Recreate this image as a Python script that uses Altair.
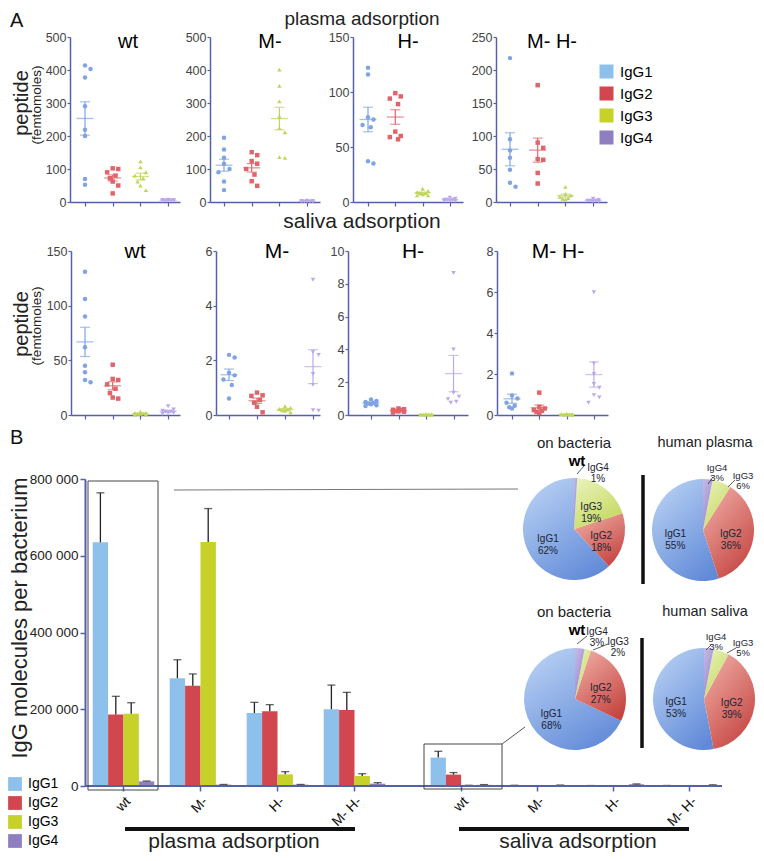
import altair as alt
import numpy as np
import pandas as pd

OX, OY = 8, 8
W, H = 748, 845
FONT = "Liberation Sans"

SUBCLASSES = ["IgG1", "IgG2", "IgG3", "IgG4"]
GROUPS = ["wt", "M-", "H-", "M- H-"]

SCATTER_COLORS = ["#7fa4e3", "#e0646a", "#bfd65a", "#bba9ea"]
BAR_COLORS = ["#8dc0ea", "#d2474f", "#c6d12a", "#8f7fc1"]
PIE_GRADIENTS = {"IgG1": ("#b7d0f3", "#6089d8"), "IgG2": ("#eeaaa2", "#c4423f"),
                 "IgG3": ("#e8f1b6", "#c2d75a"), "IgG4": ("#c2b6e5", "#9182cb")}
SHAPES = ["circle", "square", "triangle-up", "triangle-down"]
AXIS_BLUE = "#5660a8"

# ---------------- Panel A: peptide (femtomoles), plasma adsorption ----------------
plasma_wt = {"IgG1": [414, 403, 377, 290, 219, 200, 70, 52],
             "IgG2": [102, 100, 90, 80, 72, 62, 50, 26],
             "IgG3": [123, 105, 90, 80, 72, 62, 50, 36],
             "IgG4": [7, 6, 6, 5, 5, 4, 4, 3]}
plasma_m = {"IgG1": [195, 159, 134, 116, 100, 90, 62, 36],
            "IgG2": [151, 142, 124, 116, 100, 83, 63, 49],
            "IgG3": [401, 352, 305, 259, 224, 211, 136, 134],
            "IgG4": [4, 3, 3, 2, 2, 2, 1, 1]}
plasma_h = {"IgG1": [122, 116, 77, 75, 70, 68, 37, 35],
            "IgG2": [99, 96, 94, 89, 64, 60, 59, 57],
            "IgG3": [12, 10, 9, 8, 8, 7, 6, 6],
            "IgG4": [4, 3, 2, 2, 2, 1, 1, 1]}
plasma_mh = {"IgG1": [218, 95, 78, 67, 49, 29, 23],
             "IgG2": [177, 90, 82, 65, 64, 44, 28],
             "IgG3": [23, 12, 10, 8, 6, 5, 4],
             "IgG4": [5, 3, 2, 2, 1, 1, 2]}

# ---------------- Panel A: peptide (femtomoles), saliva adsorption ----------------
saliva_wt = {"IgG1": [131, 106, 90, 62, 45, 39, 32, 30],
             "IgG2": [46, 33, 32, 28, 24, 20, 16, 15],
             "IgG3": [3, 2, 2, 1.5, 1, 1, 0.5, 0.5],
             "IgG4": [8, 5, 4, 3, 3, 2, 2, 1]}
saliva_m = {"IgG1": [2.2, 2.1, 1.55, 1.45, 1.3, 1.1, 0.6],
            "IgG2": [0.82, 0.72, 0.7, 0.55, 0.45, 0.3, 0.1],
            "IgG3": [0.32, 0.26, 0.22, 0.2, 0.17, 0.15, 0.1],
            "IgG4": [4.95, 2.3, 2.2, 1.5, 1.1, 0.18, 0.16]}
saliva_h = {"IgG1": [0.95, 0.85, 0.8, 0.75, 0.7, 0.65, 0.6, 0.55],
            "IgG2": [0.4, 0.35, 0.32, 0.3, 0.25, 0.22, 0.2, 0.15],
            "IgG3": [0.06, 0.05, 0.04, 0.03, 0.02, 0.02, 0.01],
            "IgG4": [8.66, 4.0, 1.36, 1.12, 0.97, 0.81, 0.75]}
saliva_mh = {"IgG1": [2.03, 0.95, 0.8, 0.6, 0.45, 0.38, 0.32],
             "IgG2": [1.09, 0.4, 0.32, 0.24, 0.2, 0.15, 0.1],
             "IgG3": [0.06, 0.05, 0.04, 0.03, 0.02, 0.02, 0.01],
             "IgG4": [5.99, 2.52, 2.0, 1.51, 1.33, 0.97, 0.86, 0.6]}

plasma_ticks = [[0, 100, 200, 300, 400, 500], [0, 100, 200, 300, 400, 500],
                [0, 50, 100, 150], [0, 50, 100, 150, 200, 250]]
saliva_ticks = [[0, 50, 100, 150], [0, 2, 4, 6], [0, 2, 4, 6, 8, 10], [0, 2, 4, 6, 8]]

# ---------------- Panel B: IgG molecules per bacterium ----------------
bar_plasma = {"IgG1": [635000, 281000, 190000, 200000],
              "IgG2": [186000, 261000, 194500, 198000],
              "IgG3": [188500, 636000, 30400, 26000],
              "IgG4": [12000, 3500, 3500, 6000]}
bar_plasma_err = {"IgG1": [129000, 48000, 28000, 63000],
                  "IgG2": [47700, 31000, 17500, 46000],
                  "IgG3": [28500, 87000, 7000, 6000],
                  "IgG4": [1000, 500, 500, 2700]}
bar_saliva = {"IgG1": [74000, 1600, 1000, 1100],
              "IgG2": [29700, 700, 400, 500],
              "IgG3": [1500, 300, 50, 60],
              "IgG4": [3000, 2000, 4500, 2500]}
bar_saliva_err = {"IgG1": [16400, 300, 200, 300],
                  "IgG2": [5300, 150, 100, 150],
                  "IgG3": [400, 100, 20, 20],
                  "IgG4": [600, 500, 900, 600]}
bar_ticks = [0, 200000, 400000, 600000, 800000]

# pie charts: percent of each subclass
pie_bacteria_plasma = {"IgG1": 62, "IgG2": 18, "IgG3": 19, "IgG4": 1}
pie_human_plasma = {"IgG1": 55, "IgG2": 36, "IgG3": 6, "IgG4": 3}
pie_bacteria_saliva = {"IgG1": 68, "IgG2": 27, "IgG3": 2, "IgG4": 3}
pie_human_saliva = {"IgG1": 53, "IgG2": 39, "IgG3": 5, "IgG4": 3}

# ---------------- layout (page pixels) ----------------
PLASMA_GEOM = [(70, 85, 27.7, 180), (210, 224, 27.7, 320), (353, 368, 27.3, 463), (496, 510, 27.7, 607)]
SALIVA_GEOM = [(71, 85, 27.7, 180), (216, 229, 28.0, 320), (348, 371, 27.5, 468), (497, 512, 27.3, 608)]
PLASMA_Y = (37, 202)
SALIVA_Y = (251, 415)


def jitter(vals, thr):
    order = np.argsort(vals)[::-1]
    offs = [0.0] * len(vals)
    prev = None
    k = 0
    for i in order:
        v = vals[i]
        if prev is not None and abs(prev - v) < thr:
            k += 1
        else:
            k = 0
        offs[i] = [0.0, 0.2, -0.2, 0.1, -0.1][k % 5]
        prev = v
    return offs


def scatter_layers(values, ticks, geom, yrange):
    xs_, xf, st, xe = geom
    ytop, ybot = yrange
    d0 = -(xf - xs_) / st
    d1 = 3 + (xe - (xf + 3 * st)) / st
    xscale = alt.Scale(domain=[d0, d1], range=[xs_ - OX, xe - OX], nice=False, zero=False)
    yscale = alt.Scale(domain=[0, ticks[-1]], range=[ybot - OY, ytop - OY], nice=False, zero=False)
    thr = 0.035 * ticks[-1]
    rows, stats, caps = [], [], []
    for si, sc in enumerate(SUBCLASSES):
        v = values[sc]
        offs = jitter(v, thr)
        for val, o in zip(v, offs):
            rows.append(dict(subclass=sc, pos=si + o, value=val))
        arr = np.array(v, float)
        m = arr.mean()
        s = arr.std(ddof=1) / np.sqrt(len(arr))
        stats.append(dict(subclass=sc, pos=si, mean=m, lo=max(m - s, 0), hi=m + s))
        caps += [dict(subclass=sc, pos=si, value=max(m - s, 0)), dict(subclass=sc, pos=si, value=m + s)]
    color = alt.Color("subclass:N", scale=alt.Scale(domain=SUBCLASSES, range=SCATTER_COLORS), legend=None)
    xaxis = alt.Axis(values=[0, 1, 2, 3], labels=False, title=None, orient="bottom",
                     offset=(ybot - OY) - H, tickSize=4, domainColor=AXIS_BLUE, tickColor=AXIS_BLUE,
                     domainWidth=1.5, tickWidth=1.2, grid=False)
    yaxis = alt.Axis(values=ticks, title=None, orient="left", offset=-(xs_ - OX), tickSize=3,
                     labelFontSize=12.5, labelColor="#444", labelPadding=1, domainColor=AXIS_BLUE,
                     tickColor=AXIS_BLUE, domainWidth=1.5, tickWidth=1.2, grid=False)
    pts = alt.Chart(pd.DataFrame(rows)).mark_point(filled=True, size=20, opacity=1).encode(
        x=alt.X("pos:Q", scale=xscale, axis=xaxis),
        y=alt.Y("value:Q", scale=yscale, axis=yaxis),
        color=color,
        shape=alt.Shape("subclass:N", scale=alt.Scale(domain=SUBCLASSES, range=SHAPES), legend=None),
    )
    sdf = pd.DataFrame(stats)
    mean = alt.Chart(sdf).mark_tick(orient="horizontal", size=17, thickness=1.3).encode(
        x=alt.X("pos:Q", scale=xscale, axis=None),
        y=alt.Y("mean:Q", scale=yscale, axis=None),
        color=color)
    sem = alt.Chart(sdf).mark_rule(strokeWidth=1.2).encode(
        x=alt.X("pos:Q", scale=xscale, axis=None),
        y=alt.Y("lo:Q", scale=yscale, axis=None), y2="hi:Q",
        color=color)
    cap = alt.Chart(pd.DataFrame(caps)).mark_tick(orient="horizontal", size=10, thickness=1.2).encode(
        x=alt.X("pos:Q", scale=xscale, axis=None),
        y=alt.Y("value:Q", scale=yscale, axis=None),
        color=color)
    return [pts, mean, sem, cap]


def bar_layers(means, errs, x_range, show_y, legend):
    rows = []
    for sc in SUBCLASSES:
        for gi, g in enumerate(GROUPS):
            rows.append(dict(group=g, subclass=sc, value=means[sc][gi], top=means[sc][gi] + errs[sc][gi]))
    df = pd.DataFrame(rows)
    xsc = alt.Scale(domain=GROUPS, range=x_range, paddingInner=0.2, paddingOuter=0.1)
    xo = alt.Scale(domain=SUBCLASSES, paddingInner=0, paddingOuter=0)
    ysc = alt.Scale(domain=[0, 800000], range=[786 - OY, 479 - OY], nice=False, zero=False)
    xaxis = alt.Axis(title=None, orient="bottom", offset=(786 - OY) - H, domain=False, tickSize=5,
                     tickColor=AXIS_BLUE, tickWidth=1.5, labelAngle=-45, labelFontSize=14,
                     labelColor="#111", labelPadding=3, grid=False)
    if show_y:
        yaxis = alt.Axis(title=None, orient="left", offset=-(85 - OX), values=bar_ticks,
                         labelExpr="replace(format(datum.value, ','), ',', ' ')", tickSize=5,
                         domainColor=AXIS_BLUE, domainWidth=2, tickColor=AXIS_BLUE, tickWidth=1.5,
                         labelFontSize=13.5, labelColor="#222", labelPadding=2, grid=False)
    else:
        yaxis = None
    fill = alt.Fill("subclass:N", scale=alt.Scale(domain=SUBCLASSES, range=BAR_COLORS), legend=legend)
    bars = alt.Chart(df).mark_bar().encode(
        x=alt.X("group:N", scale=xsc, sort=GROUPS, axis=xaxis),
        xOffset=alt.XOffset("subclass:N", scale=xo, sort=SUBCLASSES),
        y=alt.Y("value:Q", scale=ysc, axis=yaxis),
        fill=fill)
    err = alt.Chart(df).mark_rule(color="#222", strokeWidth=1.3).encode(
        x=alt.X("group:N", scale=xsc, sort=GROUPS, axis=None),
        xOffset=alt.XOffset("subclass:N", scale=xo, sort=SUBCLASSES),
        y=alt.Y("value:Q", scale=ysc, axis=None), y2="top:Q")
    cap = alt.Chart(df).mark_tick(orient="horizontal", size=8, thickness=1.3, color="#222").encode(
        x=alt.X("group:N", scale=xsc, sort=GROUPS, axis=None),
        xOffset=alt.XOffset("subclass:N", scale=xo, sort=SUBCLASSES),
        y=alt.Y("top:Q", scale=ysc, axis=None))
    return [bars, err, cap]


def text_layer(txt, x, y, size, weight="normal", angle=0, align="center", baseline="middle",
               color="#111", line_height=None):
    props = dict(fontSize=size, fontWeight=weight, align=align, baseline=baseline, color=color)
    if angle:
        props["angle"] = angle
    if "\n" in txt:
        props["lineBreak"] = "\n"
        props["lineHeight"] = line_height or size * 1.1
    return alt.Chart(pd.DataFrame({"t": [txt]})).mark_text(**props).encode(
        text="t:N", x=alt.value(x - OX), y=alt.value(y - OY))


def seg(x1, y1, x2, y2, color="#222", width=1.0):
    return alt.Chart(pd.DataFrame({"k": [0]})).mark_rule(color=color, strokeWidth=width).encode(
        x=alt.value(x1 - OX), y=alt.value(y1 - OY), x2=alt.value(x2 - OX), y2=alt.value(y2 - OY))


def box(x1, y1, x2, y2):
    return alt.Chart(pd.DataFrame({"k": [0]})).mark_rect(filled=False, color="#444", strokeWidth=1).encode(
        x=alt.value(x1 - OX), y=alt.value(y1 - OY), x2=alt.value(x2 - OX), y2=alt.value(y2 - OY))


def pie_layers(pcts, cx, cy, r=51):
    order = ["IgG4", "IgG3", "IgG2", "IgG1"]
    df = pd.DataFrame({
        "subclass": SUBCLASSES,
        "pct": [pcts[s] for s in SUBCLASSES],
        "ord": [order.index(s) for s in SUBCLASSES],
        "inlab": [f"{s}\n{pcts[s]}%" if pcts[s] >= 10 else "" for s in SUBCLASSES],
    })
    theta = alt.Theta("pct:Q", stack=True, scale=alt.Scale(domain=[0, 100]))
    out = []
    for sc in SUBCLASSES:
        c1, c2 = PIE_GRADIENTS[sc]
        grad = alt.LinearGradient(gradient="linear",
                                  stops=[alt.GradientStop(color=c1, offset=0),
                                         alt.GradientStop(color=c2, offset=1)],
                                  x1=0.2, y1=0, x2=0.8, y2=1)
        out.append(alt.Chart(df).mark_arc(outerRadius=r, fill=grad).encode(
            theta=theta,
            order=alt.Order("ord:Q"),
            opacity=alt.condition(f"datum.subclass == '{sc}'", alt.value(1), alt.value(0)),
            x=alt.value(cx - OX), y=alt.value(cy - OY)))
    lab = alt.Chart(df).mark_text(radius=r * 0.55, fontSize=10, lineBreak="\n", lineHeight=12,
                                  color="#1c2433").encode(
        theta=theta, text="inlab:N", order=alt.Order("ord:Q"),
        x=alt.value(cx - OX), y=alt.value(cy - OY))
    out.append(lab)
    return out


layers = []

# ---- bar chart B ----
layers += bar_layers(bar_plasma, bar_plasma_err, [85 - OX, 393 - OX], True,
                     alt.Legend(orient="none", legendX=0, legendY=777 - OY, direction="vertical",
                                title=None, symbolType="square", symbolSize=190, labelFontSize=14,
                                rowPadding=5, padding=0, symbolStrokeWidth=0, labelOffset=6,
                                symbolOpacity=1))
layers += bar_layers(bar_saliva, bar_saliva_err, [423 - OX, 728 - OX], False, None)
layers.append(seg(85, 786, 722, 786, AXIS_BLUE, 2))

# ---- scatter panels A ----
for vals, ticks, geom in zip([plasma_wt, plasma_m, plasma_h, plasma_mh], plasma_ticks, PLASMA_GEOM):
    layers += scatter_layers(vals, ticks, geom, PLASMA_Y)
for vals, ticks, geom in zip([saliva_wt, saliva_m, saliva_h, saliva_mh], saliva_ticks, SALIVA_GEOM):
    layers += scatter_layers(vals, ticks, geom, SALIVA_Y)

# ---- texts ----
layers.append(text_layer("A", 10, 21, 20, align="left"))
layers.append(text_layer("B", 10, 438, 20, align="left"))
layers.append(text_layer("plasma adsorption", 362, 19, 19, color="#222"))
layers.append(text_layer("saliva adsorption", 362, 222, 21, color="#222"))
for g, xc in zip(GROUPS, [128, 270, 408, 552]):
    layers.append(text_layer(g, xc, 42, 20, color="#000"))
for g, xc in zip(GROUPS, [135, 277, 413, 558]):
    layers.append(text_layer(g, xc, 252, 21, color="#000"))
for yc in [103, 324]:
    layers.append(text_layer("peptide", 22, yc, 20, angle=270, color="#222"))
    layers.append(text_layer("(femtomoles)", 37, yc + 2, 13.5, angle=270, color="#222"))
layers.append(text_layer("IgG molecules per bacterium", 20, 618, 22, angle=270, color="#222"))

# group underlines and labels
layers.append(seg(125, 829, 355, 829, "#111", 4))
layers.append(seg(459, 829, 689, 829, "#111", 4))
layers.append(text_layer("plasma adsorption", 234, 848, 21, baseline="alphabetic", color="#222"))
layers.append(text_layer("saliva adsorption", 578, 848, 21, baseline="alphabetic", color="#222"))

# top-right legend
legend_df = pd.DataFrame({"subclass": SUBCLASSES})
layers.append(alt.Chart(legend_df).mark_point(size=0, opacity=0, filled=True).encode(
    fill=alt.Fill("subclass:N", scale=alt.Scale(domain=SUBCLASSES, range=BAR_COLORS),
                  legend=alt.Legend(orient="none", legendX=599 - OX, legendY=64 - OY, direction="vertical",
                                    title=None, symbolType="square", symbolSize=196, labelFontSize=15,
                                    rowPadding=6, padding=0, symbolStrokeWidth=0, labelOffset=6,
                                    symbolOpacity=1)),
    x=alt.value(0), y=alt.value(0)))

# zoom boxes and connectors
layers.append(box(88, 481, 158, 790))
layers.append(box(424, 744, 502, 789))
layers.append(seg(174, 490, 518, 489, "#777", 1))
layers.append(seg(502, 744, 525, 727, "#555", 1))

# ---- pies ----
layers += pie_layers(pie_bacteria_plasma, 574, 529)
layers += pie_layers(pie_human_plasma, 703, 530)
layers += pie_layers(pie_bacteria_saliva, 575, 699)
layers += pie_layers(pie_human_saliva, 704, 699)
layers.append(text_layer("on bacteria", 574, 443, 15, color="#222"))
layers.append(text_layer("human plasma", 705, 443, 14.5, color="#222"))
layers.append(text_layer("on bacteria", 574, 612, 15, color="#222"))
layers.append(text_layer("human saliva", 705, 612, 14.5, color="#222"))
layers.append(seg(643, 475, 643, 584, "#111", 3.5))
layers.append(seg(642, 638, 642, 748, "#111", 3.5))
layers.append(text_layer("wt", 577, 461, 15, weight="bold", color="#000"))
layers.append(text_layer("wt", 577, 630, 15, weight="bold", color="#000"))
# small-slice labels with leader lines
layers.append(text_layer("IgG4\n1%", 598, 468, 10, color="#1c2433"))
layers.append(seg(577, 474, 584, 466, "#333", 0.8))
layers.append(text_layer("IgG4\n3%", 717, 468, 9.5, color="#1c2433"))
layers.append(seg(708, 484, 713, 477, "#333", 0.8))
layers.append(text_layer("IgG3\n6%", 743, 476, 9.5, color="#1c2433"))
layers.append(seg(728, 487, 735, 480, "#333", 0.8))
layers.append(text_layer("IgG4\n3%", 597, 632, 10, color="#1c2433"))
layers.append(seg(577, 644, 587, 636, "#333", 0.8))
layers.append(text_layer("IgG3\n2%", 618, 642, 10, color="#1c2433"))
layers.append(seg(593, 650, 608, 644, "#333", 0.8))
layers.append(text_layer("IgG4\n3%", 716, 637, 9.5, color="#1c2433"))
layers.append(seg(706, 650, 712, 644, "#333", 0.8))
layers.append(text_layer("IgG3\n5%", 743, 643, 9.5, color="#1c2433"))
layers.append(seg(727, 653, 736, 648, "#333", 0.8))

chart = alt.layer(*layers).resolve_scale(
    x="independent", y="independent", color="independent", fill="independent",
    shape="independent", theta="independent", xOffset="independent", opacity="independent"
).properties(
    width=W, height=H, padding=0, autosize="none"
).configure(font=FONT).configure_view(stroke=None).configure_axis(grid=False)

chart.save("out.html", embed_options={"renderer": "svg", "actions": False})
